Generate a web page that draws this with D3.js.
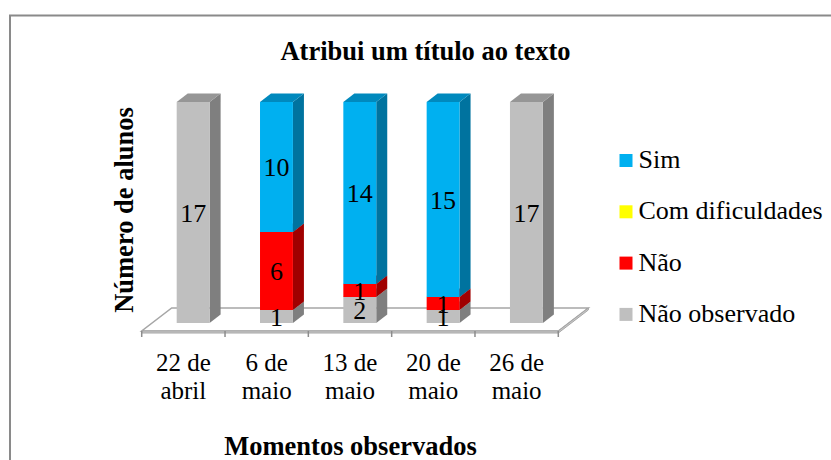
<!DOCTYPE html>
<html>
<head>
<meta charset="utf-8">
<script src="https://cdn.jsdelivr.net/npm/d3@7/dist/d3.min.js"></script>
<style>
  html, body { margin: 0; padding: 0; background: #fff; }
  svg { display: block; }
</style>
</head>
<body>
<svg id="chart" width="831" height="460"></svg>
<script>
// Observation dates (two-line tick labels)
const categories = ["22 de abril", "6 de maio", "13 de maio", "20 de maio", "26 de maio"];
const tickLines = [["22 de", "abril"], ["6 de", "maio"], ["13 de", "maio"], ["20 de", "maio"], ["26 de", "maio"]];

// Number of students per answer, one array per series
const naoObservado = [17, 1, 2, 1, 17];
const nao = [0, 6, 1, 1, 0];
const comDificuldades = [0, 0, 0, 0, 0];
const sim = [0, 10, 14, 15, 0];

// Series in stacking order (bottom to top)
const seriesNames = ["Não observado", "Não", "Com dificuldades", "Sim"];
const seriesValues = [naoObservado, nao, comDificuldades, sim];
const legendOrder = ["Sim", "Com dificuldades", "Não", "Não observado"];

const palette = {
  "Sim":              { front: "#00B0F0", top: "#0089BD", side: "#00739F" },
  "Com dificuldades": { front: "#FFFF00", top: "#C8C800", side: "#A6A600" },
  "Não":              { front: "#FF0000", top: "#C40000", side: "#A00000" },
  "Não observado":    { front: "#BFBFBF", top: "#969696", side: "#7F7F7F" }
};

const FONT = "Liberation Serif";
const svg = d3.select("#chart");

// Outer chart frame
svg.append("rect")
  .attr("x", 10).attr("y", 15.5)
  .attr("width", 840).attr("height", 460)
  .attr("fill", "#fff").attr("stroke", "#8a8a8a").attr("stroke-width", 2);

// Scales
const x = d3.scaleBand().domain(categories).range([141.7, 558.3]).paddingInner(0).paddingOuter(0);
const y = d3.scaleLinear().domain([0, 17]).range([323, 102]);
const bw = x.bandwidth();

// 3D offsets
const depthX = 11, depthY = -8.5;       // bar depth
const floorDX = 30, floorDY = -23;      // floor depth
const floorY = 331;

const pts = arr => arr.map(p => p.join(",")).join(" ");

// Floor
const fx0 = x.range()[0], fx1 = x.range()[1];
const floor = svg.append("g");
floor.append("polygon")
  .attr("points", pts([[fx0, floorY], [fx1, floorY], [fx1 + floorDX, floorY + floorDY], [fx0 + floorDX, floorY + floorDY]]))
  .attr("fill", "#fff").attr("stroke", "#a6a6a6").attr("stroke-width", 1.5);
floor.append("polygon")
  .attr("points", pts([[fx0, floorY], [fx1, floorY], [fx1, floorY + 2], [fx0, floorY + 2]]))
  .attr("fill", "#c8c8c8").attr("stroke", "#a6a6a6").attr("stroke-width", 1);
floor.append("polygon")
  .attr("points", pts([[fx1, floorY], [fx1 + floorDX, floorY + floorDY], [fx1 + floorDX, floorY + floorDY + 2], [fx1, floorY + 2]]))
  .attr("fill", "#c8c8c8").attr("stroke", "#a6a6a6").attr("stroke-width", 1);

// Category tick marks along the floor front edge
const tickXs = categories.map(c => x(c)).concat([fx1]);
floor.selectAll("line.tick").data(tickXs).enter().append("line")
  .attr("class", "tick")
  .attr("x1", d => d).attr("x2", d => d)
  .attr("y1", floorY).attr("y2", floorY + 6)
  .attr("stroke", "#8c8c8c").attr("stroke-width", 1.5);

// Stacked data
const stackRows = categories.map((c, i) => {
  const row = { cat: c };
  seriesNames.forEach((s, k) => { row[s] = seriesValues[k][i]; });
  return row;
});
const stacked = d3.stack().keys(seriesNames)(stackRows);

// Flatten segments per bar, bottom-up, skipping empty ones
const segments = [];
stacked.forEach(layer => {
  layer.forEach((d, i) => {
    const v = d[1] - d[0];
    if (v > 0) segments.push({ key: layer.key, cat: categories[i], y0: d[0], y1: d[1], v });
  });
});
segments.sort((a, b) => d3.ascending(categories.indexOf(a.cat), categories.indexOf(b.cat)) || d3.ascending(a.y0, b.y0));

const barW = bw * 0.395;
const barOff = bw * 0.42;
const bars = svg.append("g");
segments.forEach(s => {
  const bx = x(s.cat) + barOff;
  const yb = y(s.y0), yt = y(s.y1);
  const col = palette[s.key];
  const g = bars.append("g");
  // side face
  g.append("polygon")
    .attr("points", pts([[bx + barW, yb], [bx + barW + depthX, yb + depthY], [bx + barW + depthX, yt + depthY], [bx + barW, yt]]))
    .attr("fill", col.side);
  // top face
  g.append("polygon")
    .attr("points", pts([[bx, yt], [bx + depthX, yt + depthY], [bx + barW + depthX, yt + depthY], [bx + barW, yt]]))
    .attr("fill", col.top);
  // front face
  g.append("rect")
    .attr("x", bx).attr("y", yt)
    .attr("width", barW).attr("height", yb - yt)
    .attr("fill", col.front);
});

// Value labels
bars.selectAll("text.val").data(segments).enter().append("text")
  .attr("class", "val")
  .attr("x", d => x(d.cat) + barOff + barW / 2)
  .attr("y", d => (y(d.y0) + y(d.y1)) / 2 + 9)
  .attr("text-anchor", "middle")
  .attr("font-family", FONT).attr("font-size", 26)
  .text(d => d.v);

// Category labels (two lines)
const catLabels = svg.append("g");
categories.forEach((c, i) => {
  const cx = x(c) + bw / 2;
  const t = catLabels.append("text")
    .attr("text-anchor", "middle")
    .attr("font-family", FONT).attr("font-size", 25);
  t.append("tspan").attr("x", cx).attr("y", 371).text(tickLines[i][0]);
  t.append("tspan").attr("x", cx).attr("y", 399).text(tickLines[i][1]);
});

// Titles
svg.append("text")
  .attr("x", 425.5).attr("y", 60)
  .attr("text-anchor", "middle")
  .attr("font-family", FONT).attr("font-size", 26.5).attr("font-weight", "bold")
  .text("Atribui um título ao texto");

svg.append("text")
  .attr("x", 350.5).attr("y", 455)
  .attr("text-anchor", "middle")
  .attr("font-family", FONT).attr("font-size", 26.5).attr("font-weight", "bold")
  .text("Momentos observados");

svg.append("text")
  .attr("transform", "translate(133,210) rotate(-90)")
  .attr("text-anchor", "middle")
  .attr("font-family", FONT).attr("font-size", 26.5).attr("font-weight", "bold")
  .text("Número de alunos");

// Legend
const legend = svg.append("g");
legendOrder.forEach((name, i) => {
  const ly = 154 + i * 51.3;
  legend.append("rect")
    .attr("x", 619.5).attr("y", ly)
    .attr("width", 13).attr("height", 13)
    .attr("fill", palette[name].front);
  legend.append("text")
    .attr("x", 638.5).attr("y", ly + 14)
    .attr("font-family", FONT).attr("font-size", 26)
    .text(name);
});
</script>
</body>
</html>
